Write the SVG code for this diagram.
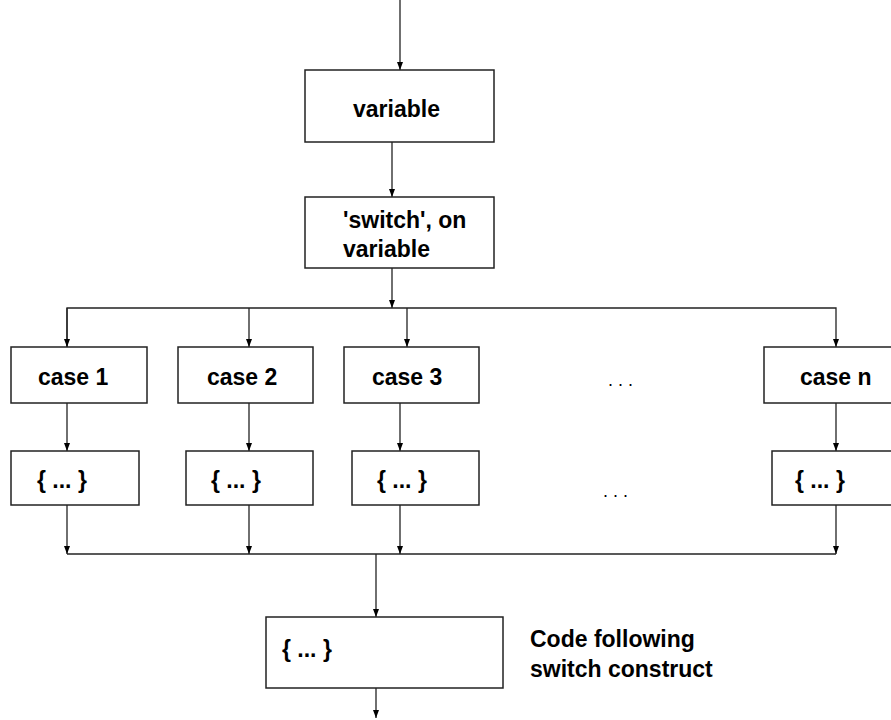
<svg xmlns="http://www.w3.org/2000/svg" width="891" height="720" viewBox="0 0 891 720">
<style>
.box{fill:#fff;stroke:#222;stroke-width:1.5}
.t{font-family:"Liberation Sans",Arial,sans-serif;font-weight:bold;font-size:23px;fill:#000}
.d{font-family:"Liberation Sans",Arial,sans-serif;font-size:18px;fill:#000}
.c{fill:none;stroke:#222;stroke-width:1.3}
</style>
<defs>
<marker id="ah" viewBox="0 0 8 8" refX="8" refY="4" markerWidth="8" markerHeight="8" markerUnits="userSpaceOnUse" orient="auto">
<path d="M0,1 L8,4 L0,7 Z" fill="#000"/>
</marker>
</defs>
<rect width="891" height="720" fill="#fff"/>
<g id="connectors">
<line class="c" x1="400" y1="0" x2="400" y2="70" marker-end="url(#ah)"/>
<line class="c" x1="392" y1="142" x2="392" y2="197" marker-end="url(#ah)"/>
<line class="c" x1="392" y1="268" x2="392" y2="308" marker-end="url(#ah)"/>
<polyline class="c" points="67,347 67,308 836,308 836,347" marker-end="url(#ah)"/>
<line class="c" x1="67" y1="308" x2="67" y2="347" marker-end="url(#ah)"/>
<line class="c" x1="249" y1="308" x2="249" y2="347" marker-end="url(#ah)"/>
<line class="c" x1="407" y1="308" x2="407" y2="347" marker-end="url(#ah)"/>
<line class="c" x1="67" y1="403" x2="67" y2="451" marker-end="url(#ah)"/>
<line class="c" x1="249" y1="403" x2="249" y2="451" marker-end="url(#ah)"/>
<line class="c" x1="400" y1="403" x2="400" y2="451" marker-end="url(#ah)"/>
<line class="c" x1="836" y1="403" x2="836" y2="451" marker-end="url(#ah)"/>
<line class="c" x1="67" y1="554" x2="836" y2="554"/>
<line class="c" x1="67" y1="505" x2="67" y2="554" marker-end="url(#ah)"/>
<line class="c" x1="249" y1="505" x2="249" y2="554" marker-end="url(#ah)"/>
<line class="c" x1="400" y1="505" x2="400" y2="554" marker-end="url(#ah)"/>
<line class="c" x1="836" y1="505" x2="836" y2="554" marker-end="url(#ah)"/>
<line class="c" x1="376" y1="554" x2="376" y2="617" marker-end="url(#ah)"/>
<line class="c" x1="376" y1="688" x2="376" y2="718" marker-end="url(#ah)"/>
</g>
<g id="variable">
<rect class="box" x="305" y="70" width="189" height="72"/>
<text class="t" x="353" y="117">variable</text>
</g>
<g id="switch">
<rect class="box" x="305" y="197" width="189" height="71"/>
<text class="t" x="343" y="228">'switch', on</text>
<text class="t" x="343" y="257">variable</text>
</g>
<g id="case1">
<rect class="box" x="11" y="347" width="136" height="56"/>
<text class="t" x="38" y="385">case 1</text>
</g>
<g id="case2">
<rect class="box" x="178" y="347" width="135" height="56"/>
<text class="t" x="207" y="385">case 2</text>
</g>
<g id="case3">
<rect class="box" x="344" y="347" width="135" height="56"/>
<text class="t" x="372" y="385">case 3</text>
</g>
<g id="casen">
<rect class="box" x="764" y="347" width="140" height="56"/>
<text class="t" x="800" y="385">case n</text>
</g>
<g id="dots1"><text class="d" x="608" y="386">. . .</text></g>
<g id="body1">
<rect class="box" x="11" y="451" width="128" height="54"/>
<text class="t" x="37" y="488">{ ... }</text>
</g>
<g id="body2">
<rect class="box" x="186" y="451" width="127" height="54"/>
<text class="t" x="211" y="488">{ ... }</text>
</g>
<g id="body3">
<rect class="box" x="352" y="451" width="127" height="54"/>
<text class="t" x="377" y="488">{ ... }</text>
</g>
<g id="bodyn">
<rect class="box" x="772" y="451" width="130" height="54"/>
<text class="t" x="795" y="488">{ ... }</text>
</g>
<g id="dots2"><text class="d" x="603" y="497">. . .</text></g>
<g id="after">
<rect class="box" x="266" y="617" width="237" height="71"/>
<text class="t" x="282" y="657">{ ... }</text>
</g>
<g id="note">
<text class="t" x="530" y="647">Code following</text>
<text class="t" x="530" y="677">switch construct</text>
</g>
</svg>
